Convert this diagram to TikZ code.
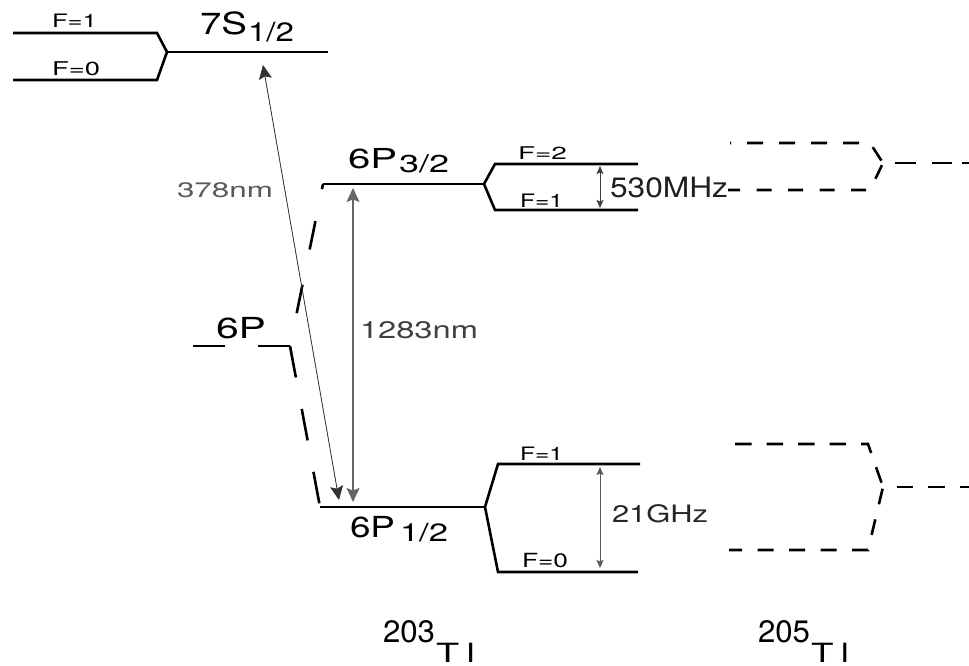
\documentclass[tikz,border=0pt]{standalone}
\usepackage{fontspec}
\setmainfont{TeX Gyre Heros}
\usepackage{graphicx}
\usetikzlibrary{arrows.meta}
% #1 = width (pt), #2 = font size (pt), #3 = text
\newcommand\rb[3]{\resizebox{#1pt}{\height}{\fontsize{#2pt}{#2pt}\selectfont #3}}
\begin{document}
\begin{tikzpicture}[x=1pt,y=-1pt,
  lvl/.style={line width=2.6pt,black,line join=miter},
  hfdash/.style={line width=2.6pt,black},
  lbl/.style={anchor=base west,inner sep=0pt,outer sep=0pt},
  trans/.style={line width=0.9pt,draw=black!70,fill=black!75,
    {Stealth[length=14pt,width=13pt,inset=2.5pt]}-{Stealth[length=14pt,width=13pt,inset=2.5pt]}},
  hfarrow/.style={line width=0.8pt,draw=black!75,fill=black!80,
    {Stealth[length=8pt,width=7pt,inset=1.5pt]}-{Stealth[length=8pt,width=7pt,inset=1.5pt]}}]
\useasboundingbox (0,0) rectangle (969,666);

% ---- 7S_{1/2} ----
\coordinate (s1a) at (13,33);  \coordinate (s1b) at (157,33);
\coordinate (s0a) at (13,80);  \coordinate (s0b) at (157,80);
\coordinate (sJ) at (167,52);  \coordinate (sE) at (328,52);
\draw[lvl] (s1a) -- (s1b) -- (sJ) -- (s0b) -- (s0a);
\draw[lvl] (sJ) -- (sE);
\node[lbl] (f71) at (52,28) {\rb{45}{18.5}{F=1}};
\node[lbl] (f70) at (52,76) {\rb{48}{19}{F=0}};
\node[lbl] (l7s) at (200,35) {\rb{47}{30.5}{7S}\kern1pt\raisebox{-7pt}{\rb{46}{26.5}{1/2}}};

% ---- 6P_{3/2} (203) ----
\coordinate (p3a) at (323,184); \coordinate (p3J) at (484,184);
\coordinate (p3u1) at (495,164); \coordinate (p3u2) at (638,164);
\coordinate (p3d1) at (495,210); \coordinate (p3d2) at (638,210);
\draw[lvl] (p3a) -- (p3J);
\draw[lvl] (p3u2) -- (p3u1) -- (p3J) -- (p3d1) -- (p3d2);
\node[lbl] (l6p3) at (348,168) {\rb{49}{27.5}{6P}\kern2pt\raisebox{-4pt}{\rb{50}{24.5}{3/2}}};
\node[lbl] (f32) at (518,159) {\rb{49}{17.5}{F=2}};
\node[lbl] (f31) at (520,207) {\rb{43}{18.5}{F=1}};

% ---- 6P_{1/2} (203) ----
\coordinate (p1a) at (320,507); \coordinate (p1J) at (485,507);
\coordinate (p1u1) at (498,464); \coordinate (p1u2) at (640,464);
\coordinate (p1d1) at (498,572); \coordinate (p1d2) at (638,572);
\draw[lvl] (p1a) -- (p1J);
\draw[lvl] (p1u2) -- (p1u1) -- (p1J) -- (p1d1) -- (p1d2);
\node[lbl] (l6p1) at (350,537) {\rb{45}{29}{6P}\kern5pt\raisebox{-4pt}{\rb{48}{25}{1/2}}};
\node[lbl] (f11) at (520,460) {\rb{43}{18.5}{F=1}};
\node[lbl] (f10) at (522,567) {\rb{46}{19.5}{F=0}};

% ---- 6P (fine-structure centre, dashed) ----
\coordinate (g0) at (193,346); \coordinate (gc) at (290,346);
\draw[lvl,dash pattern=on 32pt off 33pt] (g0) -- (gc);
\draw[lvl,dash pattern=on 32pt off 32pt] (gc) -- (p1a);
\draw[lvl,dash pattern=on 0pt off 33.5pt on 29pt off 36pt on 29pt off 32.5pt on 12pt] (gc) -- (p3a);
\node[lbl] (l6p) at (216,338) {\rb{50}{29}{6P}};

% ---- transitions ----
\coordinate (t1a) at (339,500); \coordinate (t1b) at (263,65);
\draw[trans,line width=0.8pt,draw=black!80] (t1a) -- (t1b);
\node[lbl,text=black!65] (l378) at (177,197) {\rb{96}{21}{378nm}};
\coordinate (t2a) at (353,502); \coordinate (t2b) at (353,188);
\draw[trans,line width=1.1pt,draw=black!60] (t2a) -- (t2b);
\node[lbl,text=black!75] (l1283) at (360,338) {\rb{118}{24}{1283nm}};

% ---- hyperfine splittings ----
\coordinate (h1a) at (600,166); \coordinate (h1b) at (600,208);
\draw[hfarrow] (h1a) -- (h1b);
\node[lbl,text=black!88] (l530) at (610,197) {\rb{118}{28}{530MHz}};
\coordinate (h2a) at (600,467); \coordinate (h2b) at (600,568);
\draw[hfarrow,draw=black!65] (h2a) -- (h2b);
\node[lbl,text=black!85] (l21) at (612,522) {\rb{96}{24}{21GHz}};

% ---- 205Tl (dashed) ----
\coordinate (q3u0) at (730,143); \coordinate (q3u1) at (870,143);
\coordinate (q3d0) at (728,190); \coordinate (q3d1) at (870,190);
\coordinate (q3J) at (883,163);  \coordinate (q3E) at (969,163);
\draw[hfdash,dash pattern=on 16pt off 16pt,dash phase=15pt] (q3u0) -- (q3u1) -- (q3J);
\draw[hfdash,dash pattern=on 15pt off 16.5pt,dash phase=3pt] (q3d0) -- (q3d1) -- (q3J);
\draw[hfdash,dash pattern=on 0pt off 12pt on 21pt off 16pt on 20pt off 10pt on 10pt] (q3J) -- (q3E);

\coordinate (q1u0) at (735,444); \coordinate (q1u1) at (868,444);
\coordinate (q1d0) at (729,550); \coordinate (q1d1) at (868,550);
\coordinate (q1J) at (883,487);  \coordinate (q1E) at (969,487);
\draw[hfdash,dash pattern=on 16.5pt off 15pt] (q1u0) -- (q1u1) -- (q1J);
\draw[hfdash,dash pattern=on 16pt off 15.5pt,dash phase=3pt] (q1d0) -- (q1d1) -- (q1J);
\draw[hfdash,dash pattern=on 0pt off 14pt on 16pt off 15pt on 17pt off 15pt on 10pt] (q1J) -- (q1E);

% ---- isotope labels ----
\node[lbl] (i203) at (383,642) {\rb{52}{31}{203}\kern1pt\raisebox{-20pt}{\rb{39}{26.5}{T\kern0.2em l}}};
\node[lbl] (i205) at (758,642) {\rb{52}{31}{205}\kern1pt\raisebox{-20pt}{\rb{38}{26.5}{T\kern0.2em l}}};
\end{tikzpicture}
\end{document}
